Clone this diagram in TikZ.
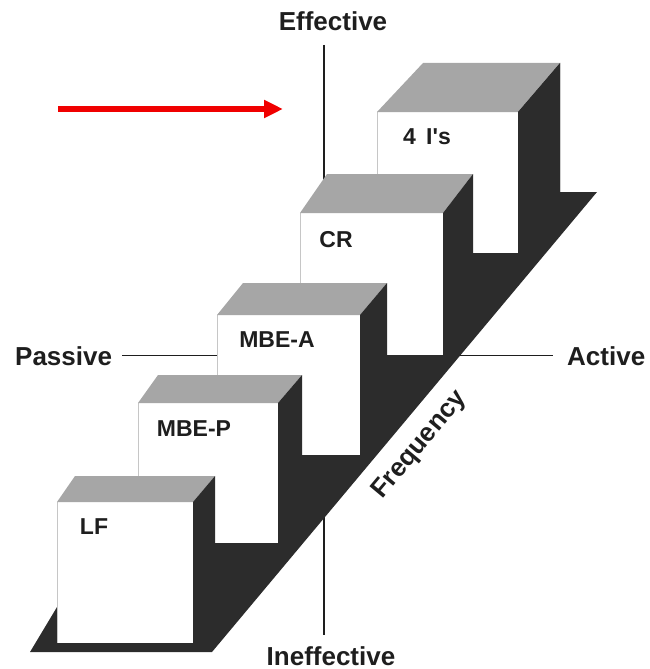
\documentclass[tikz,border=0pt]{standalone}
\usepackage{fontspec}
\setmainfont{Liberation Sans}
\usetikzlibrary{arrows.meta}
\definecolor{topgray}{HTML}{A6A6A6}
\definecolor{darkshade}{HTML}{2C2C2C}
\definecolor{ink}{HTML}{1E1E1E}
\definecolor{arrowred}{HTML}{F00000}
\newcommand\drawcube[7]{%
  \fill[white] (#1,#2) rectangle ++(#3,#4);
  \draw[faceedge] (#1,#2) -- ++(0,#4);
  \fill[topgray] (#1,#2) -- ++(#3,0) -- ++(#6,-#7) -- ({#1+#5},{#2-#7}) -- cycle;
  \fill[darkshade] ({#1+#3},#2) -- ++(#6,-#7) -- ++(0,#4) -- ({#1+#3},{#2+#4}) -- cycle;
}
\begin{document}
\begin{tikzpicture}[x=1pt,y=-1pt,
  axislbl/.style={font=\fontsize{26}{30}\selectfont\bfseries, text=ink, inner sep=0pt},
  cubelbl/.style={font=\fontsize{23}{27}\selectfont\bfseries, text=ink, inner sep=0pt},
  axisline/.style={draw=ink, line width=1.3pt},
  faceedge/.style={draw=gray!45, line width=0.6pt}]
\useasboundingbox (0,0) rectangle (650,669);

% axis labels
\node[axislbl, anchor=base] (eff) at (333,31) {Effective};
\node[axislbl, anchor=base] (ineff) at (331,665) {Ineffective};
\node[axislbl, anchor=base west] (pas) at (15,365) {Passive};
\node[axislbl, anchor=base west] (act) at (567,365) {Active};

% axes (behind the blocks)
\coordinate (vtop) at (324,45);
\coordinate (vbot) at (324,635);
\draw[axisline] (vtop) -- (vbot);
\draw[axisline] ([xshift=10pt]pas.east) -- ([xshift=-14pt]act.west);

% floor shadow and side faces
\fill[darkshade] (560,63) -- (560,192) -- (597,192) -- (212,652) -- (30,652) -- (57,607)
  -- (193,502) -- (215,476) -- (278,403) -- (302,375) -- (360,315) -- (387,283)
  -- (443,213) -- (473,174) -- (518,112) -- cycle;

% blocks, back to front
\drawcube{377}{112}{141}{141}{46}{42}{49}
\drawcube{300}{213}{143}{142}{27}{30}{39}
\drawcube{217}{315}{143}{140}{26}{27}{32}
\drawcube{138}{403}{140}{140}{20}{24}{28}
\drawcube{57}{502}{136}{141}{18}{22}{26}

% block labels
\node[cubelbl] (fouri) at (427,137) {4\hspace{0.45em}I\textquotesingle s};
\node[cubelbl] (cr) at (336,240) {CR};
\node[cubelbl] (mbea) at (277,340) {MBE-A};
\node[cubelbl] (mbep) at (194,429) {MBE-P};
\node[cubelbl] (lf) at (94,527) {LF};

% frequency
\node[axislbl, rotate=50] (freq) at (420,445) {Frequency};

% red arrow
\coordinate (arrS) at (58,109);
\coordinate (arrE) at (283,109);
\draw[arrowred, line width=5.5pt, -{Triangle[length=19pt,width=17pt]}] (arrS) -- (arrE);
\end{tikzpicture}
\end{document}
